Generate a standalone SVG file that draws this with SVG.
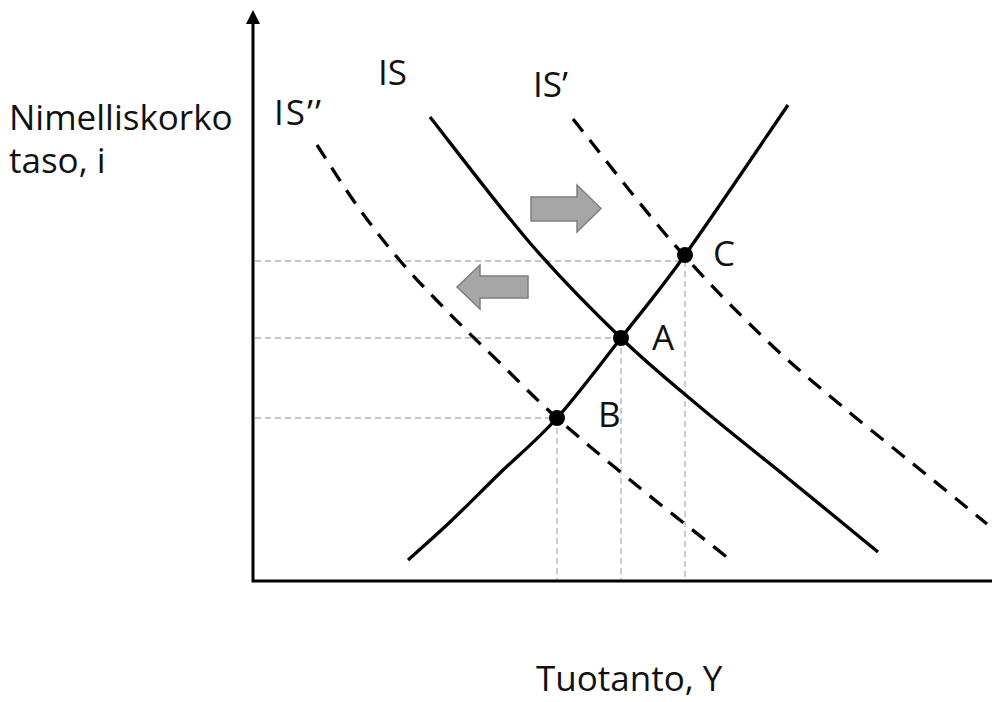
<svg xmlns="http://www.w3.org/2000/svg" width="992" height="702" viewBox="0 0 992 702">
<style>
text{font-family:"Open Sans","Liberation Sans",sans-serif;font-size:35px;fill:#111}
.curve{fill:none;stroke:#000;stroke-width:3.3;stroke-linecap:butt}
.dash{stroke-dasharray:16 11}
.guide{fill:none;stroke:#b3b3b3;stroke-width:1.3;stroke-dasharray:6 4}
.axis{fill:none;stroke:#000;stroke-width:3}
.shift{fill:#a6a6a6;stroke:#7f7f7f;stroke-width:1.5}
.pt{fill:#000}
</style>
<rect width="992" height="702" fill="#fff"/>
<g id="guides">
<line class="guide" x1="255" y1="261" x2="685" y2="261"/>
<line class="guide" x1="255" y1="338" x2="621" y2="338"/>
<line class="guide" x1="255" y1="418" x2="557" y2="418"/>
<line class="guide" x1="557" y1="418" x2="557" y2="580"/>
<line class="guide" x1="621" y1="338" x2="621" y2="580"/>
<line class="guide" x1="685" y1="261" x2="685" y2="580"/>
</g>
<g id="axes">
<polyline class="axis" points="253,22 253,581 992,581"/>
<polygon points="253,10 246,24 260,24" fill="#000"/>
</g>
<g id="curves">
<path id="IS" class="curve" d="M430,117 C446.7,138 498.2,206.2 530,243 C561.8,279.8 592.7,310.7 621,338 C649.3,365.3 671.8,383.3 700,407 C728.2,430.7 760.3,455.8 790,480 C819.7,504.2 863.3,540 878,552"/>
<path id="IS1" class="curve dash" d="M573,119 C589.7,139.7 641.2,206.5 673,243 C704.8,279.5 735.7,310.7 764,338 C792.3,365.3 814.8,383.3 843,407 C871.2,430.7 909,460.5 933,480 C957,499.5 978,516.7 987,524"/>
<path id="IS2" class="curve dash" d="M317,145 C323.8,155.3 343.8,187.3 358,207 C372.2,226.7 386.7,245.2 402,263 C417.3,280.8 433.7,297.3 450,314 C466.3,330.7 482.2,345.7 500,363 C517.8,380.3 533.7,397.2 557,418 C580.3,438.8 611.5,464.7 640,488 C668.5,511.3 713.3,546.3 728,558"/>
<path id="LM" class="curve" d="M408,560 C415,553.7 434.7,536.5 450,522 C465.3,507.5 482.2,490.3 500,473 C517.8,455.7 536.8,440.5 557,418 C577.2,395.5 599.7,365.2 621,338 C642.3,310.8 657.2,293.8 685,255 C712.8,216.2 770.8,130 788,105"/>
</g>
<g id="shift-arrows">
<polygon class="shift" points="531,197 577,197 577,185 601,208.5 577,232 577,221 531,221"/>
<polygon class="shift" points="457,287 480,265 480,276 528,276 528,298 480,298 480,309"/>
</g>
<g id="point-A"><circle class="pt" cx="621" cy="338" r="8"/><text x="652" y="350">A</text></g>
<g id="point-B"><circle class="pt" cx="557" cy="418" r="8"/><text x="598" y="427">B</text></g>
<g id="point-C"><circle class="pt" cx="685" cy="255" r="8"/><text x="713" y="266">C</text></g>
<g id="labels">
<text x="378" y="85">IS</text>
<text x="533" y="97">IS’</text>
<text x="274" y="125" letter-spacing="2">IS’’</text>
<text x="9" y="130">Nimelliskorko</text>
<text x="9" y="173">taso, i</text>
<text x="536" y="691">Tuotanto, Y</text>
</g>
</svg>
